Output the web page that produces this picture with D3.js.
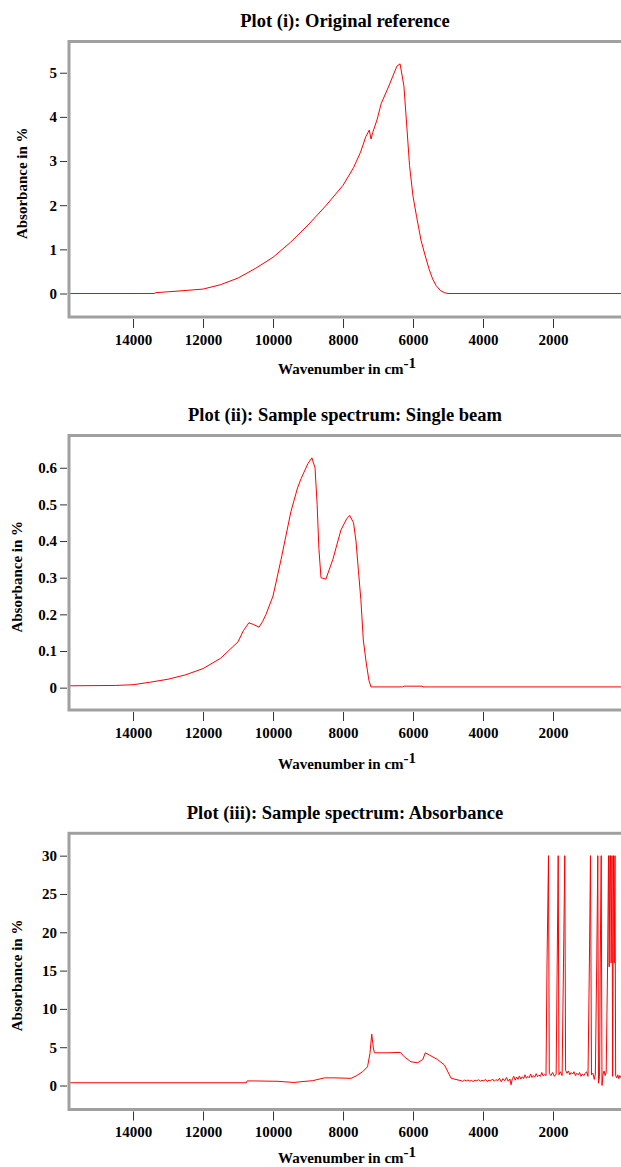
<!DOCTYPE html>
<html>
<head>
<meta charset="utf-8">
<script src="https://cdn.jsdelivr.net/npm/d3@7"></script>
<style>
    body { margin: 0; background: #fff; }
    svg text { font-family: "Liberation Serif", "Times New Roman", serif; fill: #000; }
    .title { font-weight: bold; font-size: 18.5px; }
    .axis text { font-weight: bold; font-size: 15px; }
    .axis line { stroke: #333; }
    .axis path { display: none; }
    .xlabel { font-weight: bold; font-size: 15px; }
    .ylabel { font-weight: bold; font-size: 15px; }
</style>
</head>
<body>
<div id="chartDiv"></div>
<script>
// x ticks shared by the three plots
const xTicks = [14000, 12000, 10000, 8000, 6000, 4000, 2000];
const xDomain = [15830, 57];

// plot (i): original reference
const refWave = [15830, 14000, 13400, 13350, 12800, 12000, 11500, 11000, 10500, 10000, 9500, 9000, 8500, 8000,
    7700, 7500, 7350, 7250, 7200, 7150, 7030, 6910, 6690, 6460, 6370, 6260, 6170, 6100, 6000, 5900, 5770,
    5650, 5540, 5440, 5340, 5220, 5110, 5000, 4000, 57];
const refAbs = [0, 0, 0, 0.02, 0.05, 0.1, 0.2, 0.35, 0.57, 0.82, 1.16, 1.55, 1.98, 2.45,
    2.85, 3.2, 3.55, 3.7, 3.5, 3.65, 3.93, 4.3, 4.7, 5.15, 5.2, 4.7, 3.7, 2.9, 2.2, 1.75, 1.2,
    0.85, 0.55, 0.33, 0.18, 0.07, 0.02, 0, 0, 0];
const refTicks = [0, 1, 2, 3, 4, 5];

// plot (ii): single beam
const beamWave = [15830, 14500, 14000, 13500, 13000, 12500, 12000, 11500, 11000, 10850, 10690, 10550, 10400,
    10300, 10200, 10000, 9770, 9490, 9300, 9200, 9000, 8890, 8800, 8740, 8690, 8630, 8490, 8290, 8060,
    7900, 7810, 7700, 7630, 7560, 7490, 7420, 7340, 7260, 7200, 6300, 6250, 5750, 5700, 57];
const beamAbs = [0.005, 0.006, 0.008, 0.015, 0.023, 0.035, 0.052, 0.08, 0.125, 0.155, 0.177, 0.172, 0.165,
    0.18, 0.2, 0.25, 0.35, 0.48, 0.545, 0.57, 0.612, 0.627, 0.6, 0.5, 0.38, 0.3, 0.296, 0.35, 0.43,
    0.46, 0.47, 0.45, 0.4, 0.32, 0.24, 0.13, 0.07, 0.02, 0.002, 0.002, 0.004, 0.004, 0.002, 0.002];
const beamTicks = [0, 0.1, 0.2, 0.3, 0.4, 0.5, 0.6];

// plot (iii): absorbance
const absWave = [15830, 10760, 10740, 10540, 9860, 9400, 9200, 8870, 8530, 8260, 7770, 7630, 7440, 7300,
    7230, 7180, 7135, 7105, 6720, 6360, 6250, 6060, 5870, 5720, 5650, 5530, 5300, 5100, 4910, 4630,
    4580, 4530, 4480, 4430, 4380, 4330, 4280, 4230, 4180, 4130, 4080, 4030, 3980, 3930, 3880, 3830,
    3780, 3730, 3680, 3630, 3580, 3530, 3480, 3430, 3380, 3330, 3280, 3230, 3200, 3160, 3120, 3080,
    3040, 3000, 2960, 2920, 2880, 2840, 2800, 2760, 2720, 2680, 2640, 2600, 2560, 2520, 2480, 2440,
    2400, 2360, 2320, 2280, 2240, 2200, 2171, 2129, 2106, 2060, 2010, 1960, 1910, 1880, 1851, 1830,
    1790, 1740, 1700, 1663, 1640, 1600, 1560, 1520, 1480, 1440, 1400, 1360, 1320, 1280, 1240, 1200,
    1160, 1120, 1080, 1040, 1000, 960, 929, 900, 860, 820, 790, 750, 720, 700, 670, 650, 623, 600,
    570, 540, 510, 480, 440, 414, 395, 375, 357, 340, 314, 295, 271, 250, 229, 210, 180, 150, 120, 90, 57];
const absVal = [0.36, 0.36, 0.6, 0.6, 0.55, 0.4, 0.5, 0.63, 1.0, 1.0, 0.94, 1.24, 1.8, 2.45,
    4.2, 6.7, 5.0, 4.27, 4.27, 4.32, 3.75, 3.1, 2.97, 3.4, 4.27, 3.97, 3.4, 2.67, 0.94, 0.63,
    0.55, 0.7, 0.6, 0.72, 0.58, 0.66, 0.52, 0.7, 0.62, 0.75, 0.55, 0.68, 0.6, 0.8, 0.52, 0.7,
    0.62, 0.85, 0.55, 0.78, 0.6, 0.95, 0.5, 0.9, 0.62, 1.05, 0.55, 0.85, 0.1, 0.9, 1.2, 0.7,
    1.1, 0.8, 1.25, 0.85, 1.15, 0.9, 1.4, 0.95, 1.2, 1.0, 1.5, 1.05, 1.3, 1.1, 1.55, 1.15,
    1.35, 1.2, 1.7, 1.25, 1.45, 1.3, 16, 30, 1.6, 1.3, 1.7, 1.2, 1.5, 16, 30, 1.4,
    1.8, 1.3, 16, 30, 2.0, 1.6, 1.9, 1.4, 1.7, 1.5, 1.8, 1.3, 1.6, 1.4, 1.7, 1.2,
    1.5, 1.3, 1.6, 1.8, 1.2, 16, 30, 1.4, 1.6, 0.8, 1.5, 16, 30, 0.3, 1.2, 16, 30, 0.0,
    1.5, 1.9, 1.3, 1.7, 16, 30, 15.5, 30, 30, 16, 30, 1.2, 30, 16, 30, 1.3, 1.0, 1.4, 0.9, 1.3, 1.0];
const absTicks = [0, 5, 10, 15, 20, 25, 30];

const width = 621, height = 1167;
const frameLeft = 69, frameRight = 625;

let svg = d3.select("#chartDiv").append("svg")
    .attr("width", width)
    .attr("height", height);

const panels = [
    {title: "Plot (i): Original reference", wave: refWave, vals: refAbs, ticks: refTicks, fmt: d3.format("d"),
     top: 41.5, bottom: 317, yDomain: [-0.532, 5.707], titleY: 27, yLabelX: 22, xLabelY: 374},
    {title: "Plot (ii): Sample spectrum: Single beam", wave: beamWave, vals: beamAbs, ticks: beamTicks, fmt: d => d === 0 ? "0" : d3.format(".1f")(d),
     top: 435.5, bottom: 710, yDomain: [-0.061, 0.688], titleY: 421, yLabelX: 17, xLabelY: 769},
    {title: "Plot (iii): Sample spectrum: Absorbance", wave: absWave, vals: absVal, ticks: absTicks, fmt: d3.format("d"),
     top: 833.3, bottom: 1109.5, yDomain: [-3.13, 32.92], titleY: 819, yLabelX: 17, xLabelY: 1163}
];

panels.forEach((p, i) => {
    let g = svg.append("g");

    let x = d3.scaleLinear().domain(xDomain).range([frameLeft, 621]);
    let y = d3.scaleLinear().domain(p.yDomain).range([p.bottom, p.top]);

    g.append("text")
        .attr("class", "title")
        .attr("x", 345)
        .attr("y", p.titleY)
        .attr("text-anchor", "middle")
        .text(p.title);

    // clip the spectrum inside the frame
    g.append("clipPath")
        .attr("id", "clip" + i)
        .append("rect")
        .attr("x", frameLeft)
        .attr("y", p.top)
        .attr("width", frameRight - frameLeft)
        .attr("height", p.bottom - p.top);

    let pts = p.wave.map((w, k) => [w, p.vals[k]]);
    g.append("path")
        .datum(pts)
        .attr("clip-path", `url(#clip${i})`)
        .attr("fill", "none")
        .attr("stroke", "#ff0000")
        .attr("stroke-width", 1)
        .attr("d", d3.line().x(d => x(d[0])).y(d => y(d[1])));

    // grey frame
    g.append("rect")
        .attr("x", frameLeft)
        .attr("y", p.top)
        .attr("width", frameRight - frameLeft)
        .attr("height", p.bottom - p.top)
        .attr("fill", "none")
        .attr("stroke", "#a0a0a0")
        .attr("stroke-width", 3);

    g.append("g")
        .attr("class", "axis")
        .attr("transform", `translate(${frameLeft - 2}, 0)`)
        .call(d3.axisLeft(y).tickValues(p.ticks).tickSize(7).tickPadding(3).tickFormat(p.fmt));

    g.append("g")
        .attr("class", "axis")
        .attr("transform", `translate(0, ${p.bottom + 2})`)
        .call(d3.axisBottom(x).tickValues(xTicks).tickSize(9).tickPadding(6).tickFormat(d3.format("d")));

    let xl = g.append("text")
        .attr("class", "xlabel")
        .attr("x", 347)
        .attr("y", p.xLabelY)
        .attr("text-anchor", "middle");
    xl.append("tspan").text("Wavenumber in cm");
    xl.append("tspan").attr("dy", -6).text("-1");

    g.append("text")
        .attr("class", "ylabel")
        .attr("transform", `translate(${p.yLabelX}, ${(p.top + p.bottom) / 2 + 4}) rotate(-90)`)
        .attr("text-anchor", "middle")
        .attr("dy", "0.35em")
        .text("Absorbance in %");
});
</script>
</body>
</html>
